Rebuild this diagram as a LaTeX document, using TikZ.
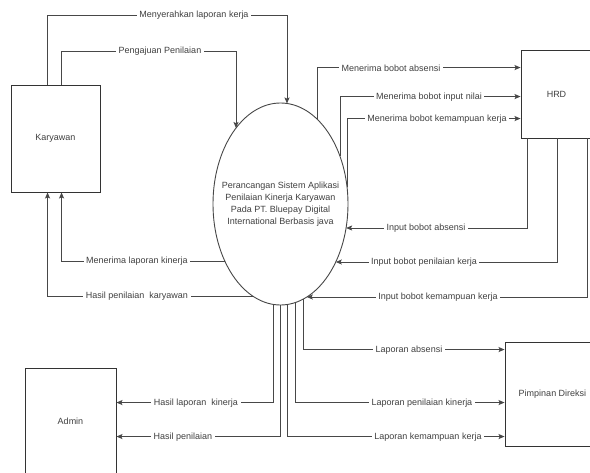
\documentclass[tikz,border=0pt]{standalone}
\usepackage{fontspec}
\setmainfont{Liberation Sans}
\usetikzlibrary{shapes.geometric,arrows.meta}
\begin{document}
\begin{tikzpicture}[x=1pt,y=-1pt,
  font=\fontsize{9}{12}\selectfont,
  ln/.style={draw=black!72, line width=0.9pt},
  arr/.style={ln, -{Stealth[length=6pt,width=5pt,inset=1.2pt]}},
  ent/.style={draw=black!80, line width=0.9pt, rectangle, inner sep=0pt, text=black!75},
  lbl/.style={fill=white, text=black!75, inner xsep=2.5pt, inner ysep=1pt}]
\useasboundingbox (0,0) rectangle (590,473);
\fill[white] (0,0) rectangle (590,473);

% entities
\node[ent, minimum width=89pt, minimum height=107pt] (kar) at (55.5,138.5) {Karyawan};
\node[ent, minimum width=71pt, minimum height=88pt] (hrd) at (556.5,94) {HRD};
\node[ent, minimum width=91pt, minimum height=106pt] (adm) at (70.5,421) {Admin};
\node[ent, minimum width=95pt, minimum height=104pt] (pim) at (552.5,394) {Pimpinan Direksi};

% process
\node[ellipse, draw=black!72, line width=0.9pt, minimum width=135pt, minimum height=202pt,
      inner sep=0pt] (p) at (280.5,204) {};
\node[align=center, text=black!75, inner sep=0pt] (pt) at (p.center)
  {Perancangan Sistem Aplikasi\\Penilaian Kinerja Karyawan\\Pada PT. Bluepay Digital\\International Berbasis java};

% points on the ellipse border
\coordinate (eT1) at (287,103.5);
\coordinate (eT2) at (236,128);
\coordinate (eR1) at (317,119);
\coordinate (eR2) at (340,156);
\coordinate (eR3) at (347,187);
\coordinate (eI1) at (346.1,228);
\coordinate (eI2) at (335.8,262);
\coordinate (eI3) at (306.8,297);
\coordinate (eL1) at (224.8,261);
\coordinate (eL2) at (252.6,296);
\coordinate (eB1) at (273,304.4);
\coordinate (eB2) at (280,305);
\coordinate (eB3) at (287,304.5);
\coordinate (eB4) at (295,302.6);
\coordinate (eB5) at (303,299.2);
\coordinate (k1) at (287,15);
\coordinate (k2) at (236,51);

% Karyawan -> process
\draw[arr] ([xshift=37pt]kar.north west) |- (k1) -- (eT1);
\draw[arr] ([xshift=51pt]kar.north west) |- (k2) -- (eT2);

% process -> HRD
\draw[arr] (eR1) |- ([yshift=-18pt]hrd.north west);
\draw[arr] (eR2) |- ([yshift=-47pt]hrd.north west);
\draw[arr] (eR3) |- ([yshift=-69pt]hrd.north west);

% HRD -> process
\draw[arr] ([xshift=7pt]hrd.south west) |- (eI1);
\draw[arr] ([xshift=37pt]hrd.south west) |- (eI2);
\draw[arr] ([xshift=67pt]hrd.south west) |- (eI3);

% process -> Karyawan
\draw[arr] (eL1) -| ([xshift=51pt]kar.south west);
\draw[arr] (eL2) -| ([xshift=37pt]kar.south west);

% process -> Admin
\draw[arr] (eB1) |- ([yshift=-35pt]adm.north east);
\draw[arr] (eB2) |- ([yshift=-69pt]adm.north east);

% process -> Pimpinan
\draw[arr] (eB3) |- ([yshift=-95pt]pim.north west);
\draw[arr] (eB4) |- ([yshift=-61pt]pim.north west);
\draw[arr] (eB5) |- ([yshift=-8pt]pim.north west);

% labels
\node[lbl] (l1) at (194,15) {Menyerahkan laporan kerja};
\node[lbl] (l2) at (160,51) {Pengajuan Penilaian};
\node[lbl] (l3) at (391,68) {Menerima bobot absensi};
\node[lbl] (l4) at (429,97) {Menerima bobot input nilai};
\node[lbl] (l5) at (437,119) {Menerima bobot kemampuan kerja};
\node[lbl] (l6) at (426,228) {Input bobot absensi};
\node[lbl] (l7) at (424,262) {Input bobot penilaian kerja};
\node[lbl] (l8) at (438,297) {Input bobot kemampuan kerja};
\node[lbl] (l9) at (137,261) {Menerima laporan kinerja};
\node[lbl] (l10) at (137,296) {Hasil penilaian\ \ karyawan};
\node[lbl] (l11) at (196,403) {Hasil laporan\ \ kinerja};
\node[lbl] (l12) at (183,437) {Hasil penilaian};
\node[lbl] (l13) at (409,350) {Laporan absensi};
\node[lbl] (l14) at (422,403) {Laporan penilaian kinerja};
\node[lbl] (l15) at (428,437) {Laporan kemampuan kerja};
\end{tikzpicture}
\end{document}
